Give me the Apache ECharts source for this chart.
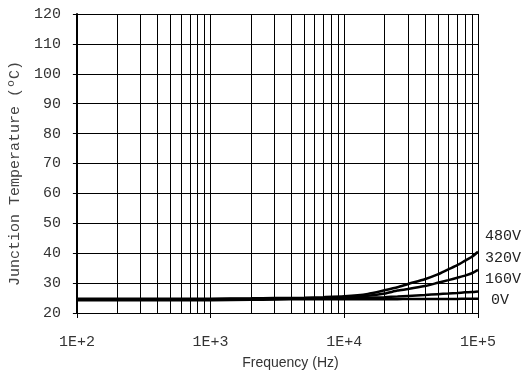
<!DOCTYPE html>
<html>
<head>
<meta charset="utf-8">
<script src="https://cdn.jsdelivr.net/npm/echarts@6/dist/echarts.min.js"></script>
<style>html,body{margin:0;padding:0;background:#fff;}#c{width:526px;height:377px;}</style>
</head>
<body>
<div id="c"></div>
<script>
const freqs = [100, 200, 500, 1000, 2000, 3000, 5000, 7000, 10000, 15000, 20000, 25000, 30000, 40000, 50000, 60000, 70000, 80000, 90000, 100000];
const v0   = [24.3, 24.3, 24.3, 24.3, 24.4, 24.5, 24.6, 24.6, 24.6, 24.6, 24.6, 24.6, 24.7, 24.7, 24.7, 24.7, 24.7, 24.8, 24.8, 24.8];
const v160 = [24.5, 24.5, 24.5, 24.5, 24.6, 24.7, 24.8, 24.9, 25.0, 25.1, 25.3, 25.5, 25.7, 26.0, 26.3, 26.5, 26.7, 26.9, 27.0, 27.2];
const v320 = [24.6, 24.6, 24.6, 24.6, 24.7, 24.8, 24.9, 25.0, 25.3, 25.8, 26.5, 27.5, 28.0, 29.0, 30.1, 31.0, 31.8, 32.5, 33.3, 34.4];
const v480 = [24.8, 24.8, 24.8, 24.8, 24.9, 25.0, 25.1, 25.3, 25.6, 26.4, 27.6, 28.6, 29.7, 31.3, 32.9, 34.6, 36.0, 37.5, 38.8, 40.5];
const seriesNames = ['0V', '160V', '320V', '480V'];
const xTickLabels = ['1E+2', '1E+3', '1E+4', '1E+5'];
const yTickLabels = ['20', '30', '40', '50', '60', '70', '80', '90', '100', '110', '120'];
const minorGridFreqs = [200, 300, 400, 500, 600, 700, 800, 900,
  2000, 3000, 4000, 5000, 6000, 7000, 8000, 9000,
  20000, 30000, 40000, 50000, 60000, 70000, 80000, 90000];

const mono = 'Liberation Mono';
const allVals = [v0, v160, v320, v480];
const labelOffsets = [[13, 1], [7, -12], [7, -12], [7, -16]];

const series = allVals.map((vals, i) => ({
  name: seriesNames[i],
  type: 'line',
  data: freqs.map((f, k) => [f, vals[k]]),
  showSymbol: false,
  smooth: 0.2,
  lineStyle: { color: '#000', width: 2.5 },
  z: 5,
  endLabel: {
    show: true,
    formatter: seriesNames[i],
    fontFamily: mono,
    fontSize: 15,
    color: '#222',
    distance: 0,
    offset: labelOffsets[i],
    align: 'left',
    verticalAlign: 'middle'
  }
}));
series.push({
  type: 'line',
  data: [],
  silent: true,
  markLine: {
    silent: true,
    symbol: 'none',
    label: { show: false },
    lineStyle: { color: '#000', width: 1, type: 'solid' },
    animation: false,
    data: minorGridFreqs.map(f => ({ xAxis: f }))
  }
});

const chart = echarts.init(document.getElementById('c'), null, { renderer: 'canvas' });
chart.setOption({
  animation: false,
  backgroundColor: '#fff',
  grid: { left: 71, right: 48, top: 14, bottom: 64 },
  xAxis: {
    type: 'log',
    logBase: 10,
    min: 100,
    max: 100000,
    name: 'Frequency (Hz)',
    nameLocation: 'middle',
    nameGap: 43,
    nameTextStyle: { fontFamily: 'Liberation Sans', fontSize: 14, color: '#333', padding: [0, 0, 0, 26] },
    axisLine: { show: true, lineStyle: { color: '#000', width: 1 } },
    axisTick: { show: true, inside: false, length: 5, lineStyle: { color: '#000' } },
    axisLabel: {
      margin: 22,
      fontFamily: mono,
      fontSize: 15,
      color: '#333',
      formatter: (v, i) => xTickLabels[i]
    },
    splitLine: { show: true, lineStyle: { color: '#000', width: 1 } }
  },
  yAxis: {
    type: 'value',
    min: 20,
    max: 120,
    interval: 10,
    name: 'Junction Temperature (ºC)',
    nameLocation: 'middle',
    nameRotate: 90,
    nameGap: 50,
    nameTextStyle: { fontFamily: mono, fontSize: 15, color: '#444', padding: [0, 20, 0, 0] },
    axisLine: { show: true, lineStyle: { color: '#000', width: 2 } },
    axisTick: { show: true, inside: false, length: 4, lineStyle: { color: '#000' } },
    axisLabel: {
      margin: 16,
      fontFamily: mono,
      fontSize: 15,
      color: '#333',
      formatter: (v, i) => yTickLabels[i]
    },
    splitLine: { show: true, lineStyle: { color: '#000', width: 1 } }
  },
  series: series
});
</script>
</body>
</html>
